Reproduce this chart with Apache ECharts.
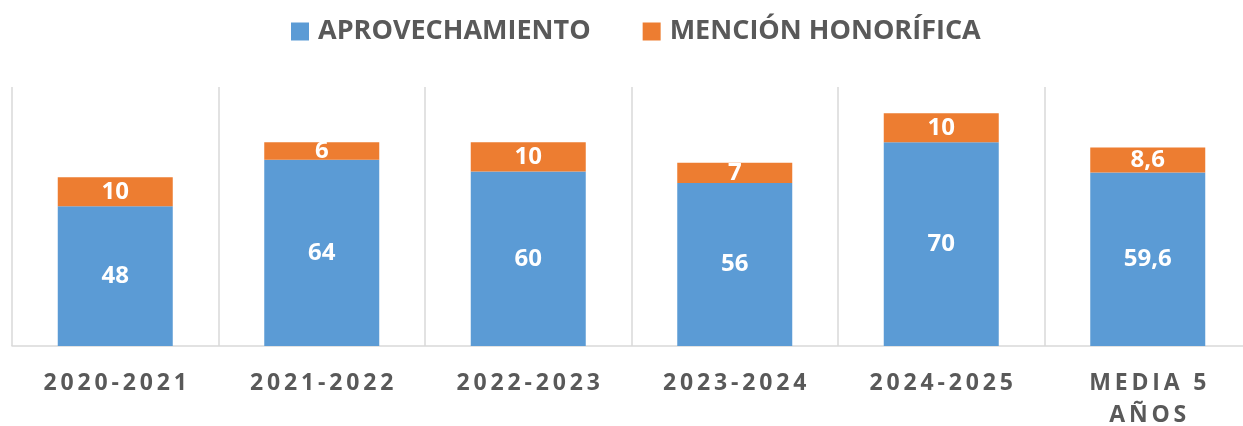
<!DOCTYPE html>
<html>
<head>
<meta charset="utf-8">
<script src="https://cdn.jsdelivr.net/npm/echarts@6/dist/echarts.min.js"></script>
<style>
html,body{margin:0;padding:0;background:#fff;overflow:hidden;width:1243px;height:426px;}
#chart{width:1251px;height:426px;}
</style>
</head>
<body>
<div id="chart"></div>
<script>
const categories = ['2020-2021', '2021-2022', '2022-2023', '2023-2024', '2024-2025', 'MEDIA 5\nAÑOS'];
const aprovechamiento = [48, 64, 60, 56, 70, 59.6];
const mencionHonorifica = [10, 6, 10, 7, 10, 8.6];
const seriesNames = ['APROVECHAMIENTO', 'MENCIÓN HONORÍFICA'];

const FONT = '"Open Sans", sans-serif';
const fmtNum = p => String(p.value).replace('.', ',');
const spaced = v => v.split('\n').map(l => l.split('').join('\u2006')).join('\n');

const chart = echarts.init(document.getElementById('chart'), null, {renderer: 'canvas'});
chart.setOption({
  animation: false,
  backgroundColor: '#ffffff',
  legend: {
    left: 286, top: 13,
    itemWidth: 18, itemHeight: 18, itemGap: 52,
    icon: 'rect',
    textStyle: {color: '#595959', fontFamily: FONT, fontWeight: 'bold', fontSize: 27, padding: [0, 0, 0, 4]},
    data: seriesNames
  },
  grid: {left: 12, top: 87, right: 0, bottom: 80, containLabel: false, outerBoundsMode: 'none'},
  xAxis: {
    type: 'category',
    data: categories,
    axisLine: {show: true, lineStyle: {color: '#d9d9d9', width: 1.5}},
    axisTick: {show: false},
    splitLine: {show: true, lineStyle: {color: '#d9d9d9', width: 1.5}},
    axisLabel: {
      color: '#595959', fontFamily: FONT, fontWeight: 'bold', fontSize: 23,
      margin: 21, lineHeight: 32, formatter: spaced
    }
  },
  yAxis: {
    type: 'value', min: 0, max: 89, show: false, splitLine: {show: false}
  },
  series: [
    {
      name: seriesNames[0], type: 'bar', stack: 'total', data: aprovechamiento,
      barWidth: 115,
      itemStyle: {color: '#5B9BD5'},
      label: {show: true, position: 'inside', color: '#ffffff', fontFamily: FONT, fontWeight: 'bold', fontSize: 24, formatter: fmtNum}
    },
    {
      name: seriesNames[1], type: 'bar', stack: 'total', data: mencionHonorifica,
      barWidth: 115,
      itemStyle: {color: '#ED7D31'},
      label: {show: true, position: 'inside', color: '#ffffff', fontFamily: FONT, fontWeight: 'bold', fontSize: 24, formatter: fmtNum}
    }
  ]
});
</script>
</body>
</html>
